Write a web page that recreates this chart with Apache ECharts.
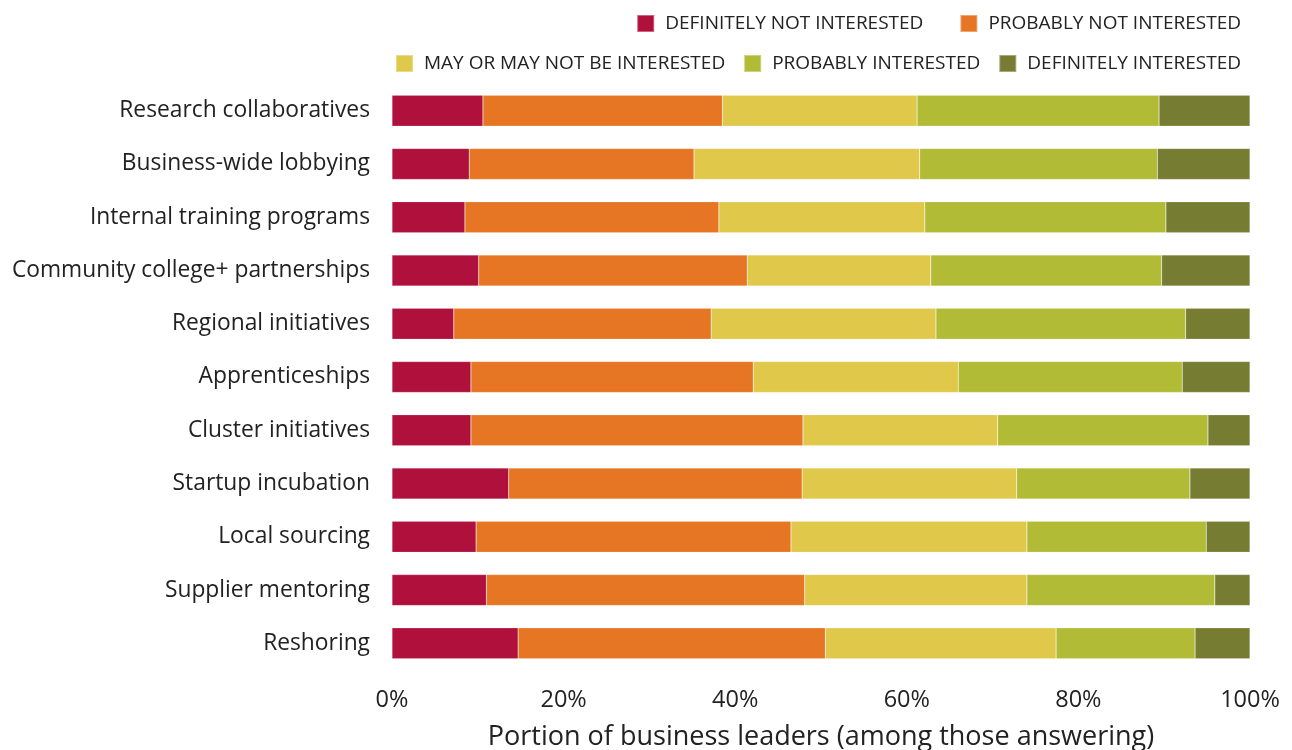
<!DOCTYPE html>
<html><head><meta charset="utf-8">
<script src="https://cdn.jsdelivr.net/npm/echarts@6/dist/echarts.min.js"></script>
<style>html,body{margin:0;padding:0;background:#fff}#c{width:1292px;height:750px}</style>
</head><body><div id="c"></div>
<script>
const categories = ["Research collaboratives","Business-wide lobbying","Internal training programs","Community college+ partnerships","Regional initiatives","Apprenticeships","Cluster initiatives","Startup incubation","Local sourcing","Supplier mentoring","Reshoring"];
const seriesNames = ["DEFINITELY NOT INTERESTED","PROBABLY NOT INTERESTED","MAY OR MAY NOT BE INTERESTED","PROBABLY INTERESTED","DEFINITELY INTERESTED"];
const definitelyNot = [10.6, 9.0, 8.5, 10.1, 7.2, 9.2, 9.2, 13.6, 9.8, 11.0, 14.7];
const probablyNot   = [27.9, 26.2, 29.6, 31.3, 30.0, 32.9, 38.7, 34.2, 36.7, 37.1, 35.8];
const mayOrMayNot   = [22.7, 26.3, 24.0, 21.4, 26.2, 23.9, 22.7, 25.0, 27.5, 25.9, 26.9];
const probably      = [28.2, 27.7, 28.1, 26.9, 29.1, 26.1, 24.5, 20.2, 20.9, 21.9, 16.2];
const definitely    = [10.6, 10.8, 9.8, 10.3, 7.5, 7.9, 4.9, 7.0, 5.1, 4.1, 6.4];
const tickLabels = ["0%","20%","40%","60%","80%","100%"];
const colors = ["#B0103C","#E67624","#E0C84A","#B1BB36","#767D33"];
const values = [definitelyNot, probablyNot, mayOrMayNot, probably, definitely];
const font = "'Open Sans', 'Liberation Sans', sans-serif";
const chart = echarts.init(document.getElementById('c'));
chart.setOption({
  animation:false,
  color: colors,
  grid:{left:392,right:42,top:84,bottom:80,containLabel:false,outerBoundsMode:'none'},
  legend:[
    {data:seriesNames.slice(0,2), right:46, top:9, itemWidth:17, itemHeight:17, itemGap:36,
     icon:'rect', textStyle:{fontFamily:font,fontSize:19,color:'#222',padding:[0,0,0,6]}},
    {data:seriesNames.slice(2), right:46, top:49, itemWidth:17, itemHeight:17, itemGap:18,
     icon:'rect', textStyle:{fontFamily:font,fontSize:19,color:'#222',padding:[0,0,0,6]}}
  ],
  xAxis:{type:'value',min:0,max:100,interval:20,
    axisLabel:{formatter:v=>tickLabels[v/20],fontFamily:font,fontSize:23.5,color:'#222',margin:18},
    splitLine:{show:false},axisLine:{show:false},axisTick:{show:false},
    name:'Portion of business leaders (among those answering)',nameLocation:'middle',nameGap:54,
    nameTextStyle:{fontFamily:font,fontSize:27,color:'#222'}},
  yAxis:{type:'category',data:categories,inverse:true,
    axisLabel:{fontFamily:font,fontSize:22.8,color:'#222',margin:22,padding:[3,0,0,0]},
    axisLine:{show:false},axisTick:{show:false}},
  series: seriesNames.map((n,i)=>({name:n,type:'bar',stack:'all',data:values[i],barWidth:31,
    itemStyle:{color:colors[i],borderColor:'rgba(255,255,255,0.35)',borderWidth:0.5}}))
});
</script></body></html>
